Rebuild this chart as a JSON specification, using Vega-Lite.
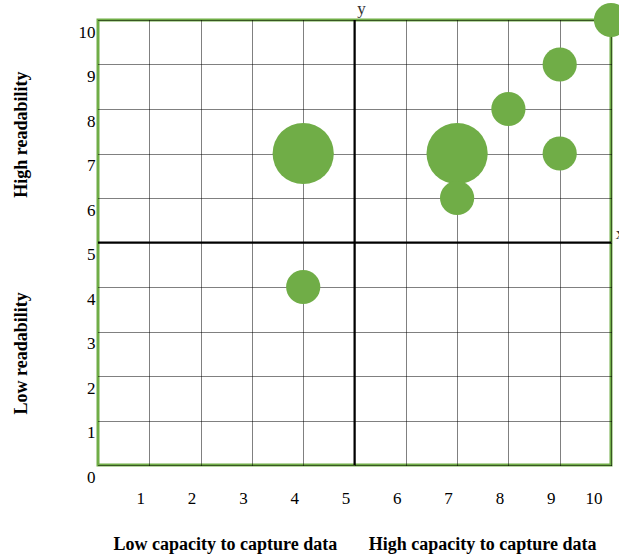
{
  "$schema": "https://vega.github.io/schema/vega-lite/v6.json",
  "width": 513,
  "height": 445,
  "autosize": {"type": "none"},
  "padding": {"left": 98, "top": 20, "right": 8, "bottom": 91},
  "background": "white",
  "config": {
    "view": {"stroke": "#70AD47", "strokeWidth": 3},
    "axis": {
      "labelFont": "Liberation Serif",
      "labelFontSize": 17,
      "labelColor": "#000000",
      "titleFont": "Liberation Serif",
      "titleFontSize": 18,
      "titleFontWeight": "bold",
      "titleColor": "#000000",
      "ticks": false,
      "domain": false,
      "grid": true,
      "gridColor": "#000000",
      "gridDash": [1, 1],
      "gridWidth": 1,
      "gridOpacity": 1
    }
  },
  "datasets": {
    "bubbles": [
      {"capacity": 4, "readability": 7, "weight": 3},
      {"capacity": 7, "readability": 7, "weight": 3},
      {"capacity": 7, "readability": 6, "weight": 1},
      {"capacity": 8, "readability": 8, "weight": 1},
      {"capacity": 9, "readability": 9, "weight": 1},
      {"capacity": 9, "readability": 7, "weight": 1},
      {"capacity": 10, "readability": 10, "weight": 1},
      {"capacity": 4, "readability": 4, "weight": 1}
    ]
  },
  "layer": [
    {
      "data": {"values": [{"v": 5}]},
      "mark": {"type": "rule", "color": "#000000", "strokeWidth": 2},
      "encoding": {"x": {"field": "v", "type": "quantitative"}}
    },
    {
      "data": {"values": [{"v": 5}]},
      "mark": {"type": "rule", "color": "#000000", "strokeWidth": 2},
      "encoding": {"y": {"field": "v", "type": "quantitative"}}
    },
    {
      "data": {"name": "bubbles"},
      "mark": {"type": "circle", "color": "#70AD47", "opacity": 1},
      "encoding": {
        "x": {
          "field": "capacity",
          "type": "quantitative",
          "scale": {"domain": [0, 10], "nice": false, "zero": false},
          "axis": {
            "values": [1, 2, 3, 4, 5, 6, 7, 8, 9, 10],
            "labelOffset": -9,
            "labelPadding": 25,
            "title": "Low capacity to capture data\u00a0\u00a0\u00a0\u00a0\u00a0\u00a0\u00a0High capacity to capture data",
            "titlePadding": 29
          }
        },
        "y": {
          "field": "readability",
          "type": "quantitative",
          "scale": {"domain": [0, 10], "nice": false, "zero": false},
          "axis": {
            "values": [0, 1, 2, 3, 4, 5, 6, 7, 8, 9, 10],
            "labelOffset": 12,
            "labelPadding": 3,
            "title": "Low readability\u00a0\u00a0\u00a0\u00a0\u00a0\u00a0\u00a0\u00a0\u00a0\u00a0\u00a0\u00a0\u00a0\u00a0\u00a0\u00a0\u00a0\u00a0\u00a0\u00a0\u00a0High readability",
            "titlePadding": 48
          }
        },
        "size": {
          "field": "weight",
          "type": "quantitative",
          "scale": {"domain": [1, 3], "range": [1170, 3750]},
          "legend": null
        }
      }
    },
    {
      "data": {"values": [{"label": "y", "cx": 5, "cy": 10}]},
      "mark": {"type": "text", "font": "Liberation Serif", "fontSize": 17, "color": "#333333", "dx": 7, "dy": -11},
      "encoding": {
        "x": {"field": "cx", "type": "quantitative"},
        "y": {"field": "cy", "type": "quantitative"},
        "text": {"field": "label"}
      }
    },
    {
      "data": {"values": [{"label": "x", "cx": 10, "cy": 5}]},
      "mark": {"type": "text", "font": "Liberation Serif", "fontSize": 17, "color": "#333333", "dx": 9, "dy": -9},
      "encoding": {
        "x": {"field": "cx", "type": "quantitative"},
        "y": {"field": "cy", "type": "quantitative"},
        "text": {"field": "label"}
      }
    }
  ]
}
